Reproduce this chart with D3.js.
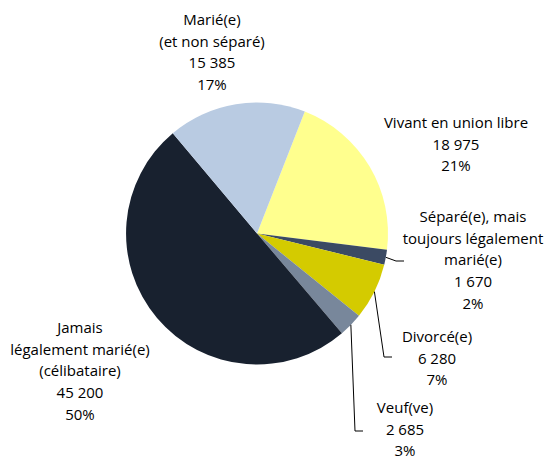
<!DOCTYPE html>
<html>
<head>
<meta charset="utf-8">
<script src="https://cdn.jsdelivr.net/npm/d3@7"></script>
<style>
	body { margin: 0; background: #fff; }
	svg { display: block; }
	.lbl { font-family: "Open Sans", Lato, sans-serif; font-size: 15px; fill: #000; }
</style>
</head>
<body>
<div id="chart"></div>
<script>
// data
let categories = ["Vivant en union libre", "Séparé(e), mais toujours légalement marié(e)", "Divorcé(e)", "Veuf(ve)", "Jamais légalement marié(e) (célibataire)", "Marié(e) (et non séparé)"];
let labelLines = [
	["Vivant en union libre"],
	["Séparé(e), mais", "toujours légalement", "marié(e)"],
	["Divorcé(e)"],
	["Veuf(ve)"],
	["Jamais", "légalement marié(e)", "(célibataire)"],
	["Marié(e)", "(et non séparé)"]
];
let values = [18975, 1670, 6280, 2685, 45200, 15385];
let colors = ["#FFFF8E", "#3B4A63", "#D4CB00", "#78879B", "#18212F", "#B9CBE2"];

// layout of the placed labels (centre x, centre y of first line) and leader ends
let layout = [
	{ x: 456, y: 123 },
	{ x: 473, y: 217, leader: [404, 261] },
	{ x: 437, y: 337, leader: [392, 357] },
	{ x: 405, y: 408, leader: [363, 431] },
	{ x: 80, y: 328 },
	{ x: 212, y: 20 }
];

let width = 547;
let height = 460;
let cx = 257, cy = 233.5, radius = 131;
let startAngle = 21.4 * Math.PI / 180;
let lineH = 21.7;

let locale = d3.formatLocale({ decimal: ",", thousands: " ", grouping: [3], currency: ["", " $"] });
let fmtNum = locale.format(",d");
let total = d3.sum(values);

let svg = d3.select("#chart").append("svg")
	.attr("width", width)
	.attr("height", height);

let g = svg.append("g")
	.attr("transform", "translate(" + cx + "," + cy + ")");

let pie = d3.pie()
	.sort(null)
	.value(d => d)
	.startAngle(startAngle)
	.endAngle(startAngle + 2 * Math.PI);

let arc = d3.arc().innerRadius(0).outerRadius(radius);
let edge = d3.arc().innerRadius(radius).outerRadius(radius);

let arcs = pie(values);

// slices
g.selectAll("path.slice")
	.data(arcs)
	.enter().append("path")
	.attr("class", "slice")
	.attr("d", arc)
	.attr("fill", (d, i) => colors[i]);

// leader lines for the small slices
arcs.forEach(function(d, i){
	let l = layout[i].leader;
	if (!l) return;
	let p = edge.centroid(d);
	let end = [l[0] - cx, l[1] - cy];
	let elbow = [end[0] - 8, end[1]];
	g.append("polyline")
		.attr("points", [p, elbow, end].map(q => q.join(",")).join(" "))
		.attr("fill", "none")
		.attr("stroke", "#000")
		.attr("stroke-width", 1);
});

// labels: name lines, value, percent
arcs.forEach(function(d, i){
	let lines = labelLines[i].concat([fmtNum(values[i]), Math.round(values[i] / total * 100) + "%"]);
	let t = svg.append("text")
		.attr("class", "lbl")
		.attr("text-anchor", "middle");
	lines.forEach(function(s, k){
		t.append("tspan")
			.attr("x", layout[i].x)
			.attr("y", layout[i].y + k * lineH + 5)
			.text(s);
	});
});
</script>
</body>
</html>
